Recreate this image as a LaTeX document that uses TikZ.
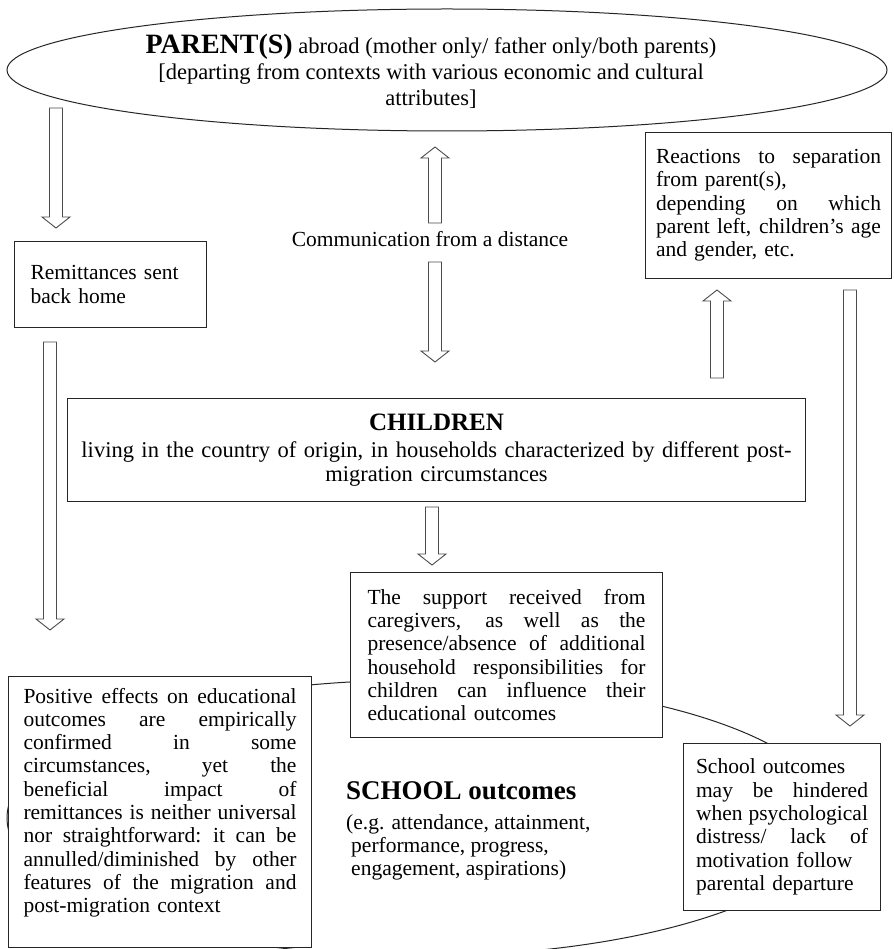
\documentclass[tikz,border=0pt]{standalone}
\usepackage{fontspec}
\setmainfont{Liberation Serif}
\usetikzlibrary{shapes.geometric,calc}
\newcommand\JL[2]{\leavevmode\hbox to #1{\spaceskip=0.25em plus 1fil\xspaceskip=0.3em plus 1fil\relax #2}}
\newcommand\downblock[2]{\draw[blk] let \p1=(#1),\p2=(#2) in
  (\x1-6.5pt,\y1) -- (\x1+6.5pt,\y1) -- (\x1+6.5pt,\y2+11pt) -- (\x1+14pt,\y2+11pt)
  -- (\x1,\y2) -- (\x1-14pt,\y2+11pt) -- (\x1-6.5pt,\y2+11pt) -- cycle;}
\newcommand\upblock[2]{\draw[blk] let \p1=(#1),\p2=(#2) in
  (\x1-6.5pt,\y1) -- (\x1+6.5pt,\y1) -- (\x1+6.5pt,\y2-11pt) -- (\x1+14pt,\y2-11pt)
  -- (\x1,\y2) -- (\x1-14pt,\y2-11pt) -- (\x1-6.5pt,\y2-11pt) -- cycle;}
\begin{document}
\begin{tikzpicture}[x=1pt,y=-1pt,
  box/.style={draw=black!85, fill=white, line width=1pt, inner sep=0pt, anchor=north west, align=left, font=\fontsize{21.5}{23.3}\selectfont},
  blk/.style={draw=black!70, fill=white, line width=0.9pt},
  txt/.style={inner sep=0pt, font=\fontsize{21.5}{23.3}\selectfont},
  oval/.style={draw=black!85, line width=1pt, ellipse, inner sep=0pt}]
\useasboundingbox (0,0) rectangle (893,949);
\clip (0,0) rectangle (893,949);
\fill[white] (0,0) rectangle (893,949);

% bottom ellipse (school outcomes)
\node[oval, minimum width=826pt, minimum height=276pt] (school) at (420,818) {};

% top ellipse (parents)
\node[oval, minimum width=880pt, minimum height=122pt] (parent) at (447,70) {};
\node[inner sep=0pt, align=center, font=\fontsize{22.5}{26}\selectfont] (parenttext) at (431,71)
 {{\fontsize{28}{26}\selectfont\bfseries PARENT(S)} abroad (mother only/ father only/both parents)\\{}[departing from contexts with various economic and cultural\\attributes]};

% boxes
\node[box, minimum width=192pt, minimum height=86pt, text width=160pt] (remit) at (14,241)
 {Remittances sent\\back home};

\node[box, minimum width=246pt, minimum height=146pt, text width=225pt] (react) at (645,132)
 {\JL{225pt}{Reactions to separation}\\from parent(s),\\\JL{225pt}{depending on which}\\\JL{225pt}{parent left, children’s age}\\and gender, etc.};

\node[box, minimum width=738pt, minimum height=103pt, text width=720pt, align=center, font=\fontsize{22.5}{23.5}\selectfont] (children) at (67,398)
 {{\fontsize{25}{26}\selectfont\bfseries CHILDREN}\\[4pt]living in the country of origin, in households characterized by different post-\\migration circumstances};

\node[box, minimum width=312pt, minimum height=165pt, text width=278pt] (care) at (350,572)
 {\JL{278pt}{The support received from}\\\JL{278pt}{caregivers, as well as the}\\\JL{278pt}{presence/absence of additional}\\\JL{278pt}{household responsibilities for}\\\JL{278pt}{children can influence their}\\educational outcomes};

\node[box, minimum width=303pt, minimum height=271pt, text width=273pt] (pos) at (8,676)
 {\JL{273pt}{Positive effects on educational}\\\JL{273pt}{outcomes are empirically}\\\JL{273pt}{confirmed in some}\\\JL{273pt}{circumstances, yet the}\\\JL{273pt}{beneficial impact of}\\\JL{273pt}{remittances is neither universal}\\\JL{273pt}{nor straightforward: it can be}\\\JL{273pt}{annulled/diminished by other}\\\JL{273pt}{features of the migration and}\\post-migration context\\\mbox{}};

\node[box, minimum width=197pt, minimum height=167pt, text width=172pt] (sbox) at (683,743)
 {School outcomes\\\JL{172pt}{may be hindered}\\\JL{172pt}{when psychological}\\\JL{172pt}{distress/ lack of}\\motivation follow\\parental departure};

\node[txt, anchor=north west, align=left] (stext) at (346,781)
 {{\fontsize{27}{28}\selectfont\bfseries SCHOOL outcomes}\\[7pt](e.g. attendance, attainment,\\\hspace*{5pt}performance, progress,\\\hspace*{5pt}engagement, aspirations)};

\node[txt] (comm) at (430,239) {Communication from a distance};

% block arrows
\coordinate (a1s) at (56,108);  \coordinate (a1e) at (56,228);
\coordinate (a2s) at (50,342);  \coordinate (a2e) at (50,630);
\coordinate (a3s) at (435,223); \coordinate (a3e) at (435,147);
\coordinate (a4s) at (435,262); \coordinate (a4e) at (435,362);
\coordinate (a5s) at (432,507); \coordinate (a5e) at (432,565);
\coordinate (a6s) at (717,378); \coordinate (a6e) at (717,290);
\coordinate (a7s) at (850,290); \coordinate (a7e) at (850,726);
\downblock{a1s}{a1e}
\downblock{a2s}{a2e}
\upblock{a3s}{a3e}
\downblock{a4s}{a4e}
\downblock{a5s}{a5e}
\upblock{a6s}{a6e}
\downblock{a7s}{a7e}
\end{tikzpicture}
\end{document}
